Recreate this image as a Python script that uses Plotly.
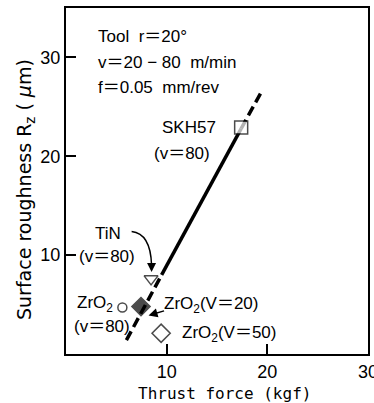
import plotly.graph_objects as go

# ---- data ----
labels = ["SKH57 (v=80)", "TiN (v=80)", "ZrO2 (v=80)", "ZrO2 (V=20)", "ZrO2 (V=50)"]
thrust_force = [17.4, 8.45, 5.6, 7.45, 9.45]      # kgf
roughness_rz = [22.9, 7.6, 4.7, 4.8, 2.1]         # um

# trend line (breakpoints where the style changes: dashed / solid / dashed)
trend_x = [6.0, 9.5, 17.4, 19.4]
trend_y = [1.4, 8.0, 22.8, 26.5]

x_ticks = [10, 20, 30]
y_ticks = [10, 20, 30]

# ---- styles ----
symbols = ["square", "triangle-down", "circle", "diamond", "diamond"]
fills = ["white", "white", "white", "black", "white"]
sizes = [13, 12, 9, 14, 14]

FONT = "Liberation Sans, Arial, Noto Sans CJK JP, sans-serif"
fig = go.Figure()

seg_styles = ["10px,5px", "solid", "10px,5px"]
for i, dash in enumerate(seg_styles):
    fig.add_trace(go.Scatter(
        x=trend_x[i:i + 2], y=trend_y[i:i + 2], mode="lines",
        line=dict(color="black", width=3.5, dash=dash),
        showlegend=False, hoverinfo="skip"))

fig.add_trace(go.Scatter(
    x=thrust_force, y=roughness_rz, mode="markers", text=labels,
    marker=dict(symbol=symbols, color=fills, size=sizes,
                line=dict(color="black", width=1.5)),
    showlegend=False))

tf = dict(family=FONT, size=17, color="black")
texts = [
    ("Tool  r＝20°", 3.0, 32.1),
    ("v＝20 − 80  m/min", 3.0, 29.5),
    ("f＝0.05  mm/rev", 3.0, 27.0),
    ("SKH57", 9.3, 22.9),
    ("(v＝80)", 8.5, 20.3),
    ("TiN", 2.64, 12.2),
    ("(v＝80)", 1.05, 9.9),
    ("ZrO<sub>2</sub>", 0.85, 5.1),
    ("(v＝80)", 0.6, 2.8),
    ("ZrO<sub>2</sub>(V＝20)", 9.5, 5.0),
    ("ZrO<sub>2</sub>(V＝50)", 11.3, 2.0),
]
for t, x, y in texts:
    fig.add_annotation(x=x, y=y, text=t, showarrow=False, xanchor="left",
                       yanchor="middle", font=tf)

# curved arrow to TiN
fig.add_shape(type="path", path="M 6.52,12.4 Q 8.4,12.2 8.5,9.0",
              line=dict(color="black", width=1.5), xref="x", yref="y")
fig.add_annotation(x=8.5, y=8.3, ax=8.5, ay=9.2, axref="x", ayref="y",
                   showarrow=True, arrowhead=2, arrowsize=1.2, arrowwidth=1.5,
                   arrowcolor="black", text=" ", font=dict(size=1))
# arrow to ZrO2 (V=20)
fig.add_annotation(x=8.2, y=3.9, ax=17, ay=-5, showarrow=True, arrowhead=2,
                   arrowsize=1.2, arrowwidth=1.5, arrowcolor="black", text=" ",
                   font=dict(size=1))

# axis titles
fig.add_annotation(text="Thrust force (kgf)", xref="paper", yref="paper",
                   x=0.526, y=0, yshift=-39, xanchor="center", yanchor="middle",
                   showarrow=False,
                   font=dict(family="DejaVu Sans Mono", size=16, color="black"))
fig.add_annotation(text="Surface roughness R<sub>z</sub> ( <i>μ</i>m)",
                   xref="paper", yref="paper", x=0, xshift=-40, y=0.474,
                   xanchor="center", yanchor="middle", textangle=-90,
                   showarrow=False,
                   font=dict(family="DejaVu Sans", size=19, color="black"))

axis_common = dict(showgrid=False, zeroline=False, showline=True, mirror=True,
                   linecolor="black", linewidth=2, ticks="inside", ticklen=10,
                   tickwidth=1.5, tickcolor="black", automargin=False,
                   ticklabeloverflow="allow",
                   tickfont=dict(family=FONT, size=18, color="black"))
fig.update_xaxes(range=[0, 30], tickvals=x_ticks, **axis_common)
fig.update_yaxes(range=[0, 35], tickvals=y_ticks, **axis_common)
fig.update_layout(width=374, height=403, margin=dict(l=66, r=6, t=8, b=49),
                  plot_bgcolor="white", paper_bgcolor="white")
fig.write_html("out.html", config={"displayModeBar": False},
               post_script="document.body.style.margin='0';document.body.style.padding='0';")
